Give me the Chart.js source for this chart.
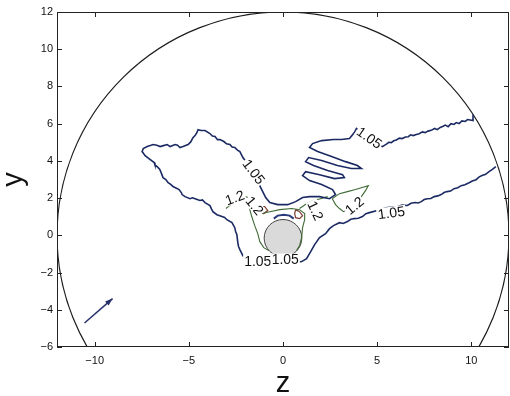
<!DOCTYPE html>
<html lang="en">
<head>
  <meta charset="UTF-8">
  <title>Contour map around a cylinder</title>
  <script src="https://cdn.jsdelivr.net/npm/chart.js"></script>
  <style>
    html, body { margin: 0; padding: 0; background: #fff; }
    #wrap { width: 510px; height: 396px; }
  </style>
</head>
<body>
  <div id="wrap"><canvas id="chart"></canvas></div>

  <script>
    // axis ticks
    const zTicks = [-10, -5, 0, 5, 10];
    const yTicks = [-6, -4, -2, 0, 2, 4, 6, 8, 10, 12];

    // geometry (data units)
    const domainRadius = 12;
    const cylinderCentre = [0, -0.15];
    const cylinderRadius = 1.0;

    // 1.05 contour, [z, y]
    const contour105 = [
      [10.09,6.49],[10.09,6.17],[9.80,6.22],[9.67,6.12],[9.50,6.15],[9.35,6.01],[9.20,6.06],[9.08,5.96],
      [8.92,6.00],[8.77,5.84],[8.62,5.92],[8.50,5.86],[8.35,5.80],[8.19,5.68],[8.05,5.74],[7.87,5.64],
      [7.70,5.60],[7.55,5.52],[7.40,5.56],[7.23,5.46],[7.08,5.42],[6.92,5.36],[6.78,5.40],[6.65,5.30],
      [6.50,5.28],[6.33,5.20],[6.18,5.22],[6.02,5.12],[5.88,5.08],[5.75,4.98],[5.62,5.00],[5.49,4.90],
      [5.28,4.77],[4.90,4.98],[4.59,5.20],[4.22,5.47],[3.90,5.74],[3.79,5.52],[3.53,5.20],
      [3.11,5.15],[2.68,5.15],[2.05,5.09],[1.57,4.93],[1.41,4.72],[1.84,4.50],[2.58,4.23],[3.32,3.96],
      [3.95,3.75],[4.16,3.59],[3.63,3.59],[2.89,3.75],[2.05,4.02],[1.36,4.18],[1.20,3.96],[1.62,3.75],
      [2.37,3.48],[3.16,3.26],[3.26,3.10],[2.74,3.05],[1.94,3.26],[1.20,3.42],[1.04,3.21],[1.41,2.94],
      [2.05,2.73],[2.63,2.46],[2.79,2.19],[2.47,1.97],[1.94,2.08],[1.41,2.08],[1.04,2.03],[0.67,1.81],
      [0.25,1.65],[-0.28,1.65],[-0.70,1.76],[-0.92,2.03],[-1.13,2.46],[-1.34,2.89],[-1.55,3.26],[-1.76,3.69],
      [-2.13,4.18],[-2.29,4.50],[-2.42,4.58],[-2.56,4.72],[-2.70,4.74],[-2.82,4.88],[-3.00,4.92],[-3.14,5.04],
      [-3.35,5.15],[-3.48,5.14],[-3.61,5.31],[-3.75,5.34],[-3.88,5.47],[-4.14,5.63],[-4.35,5.63],[-4.51,5.68],
      [-4.58,5.50],[-4.67,5.36],[-4.78,5.25],[-4.90,5.02],[-5.04,4.88],[-5.31,4.77],[-5.47,4.72],
      [-5.60,4.84],[-5.73,4.88],[-5.99,4.77],[-6.15,4.88],[-6.35,4.82],[-6.52,4.77],[-6.70,4.84],[-6.89,4.88],
      [-7.21,4.77],[-7.42,4.66],[-7.48,4.50],[-7.32,4.28],[-7.05,4.07],[-6.84,3.91],[-6.80,3.78],[-6.68,3.69],
      [-6.55,3.55],[-6.47,3.37],[-6.37,3.10],[-6.22,3.00],[-6.10,2.83],[-5.96,2.74],[-5.84,2.62],
      [-5.52,2.46],[-5.40,2.30],[-5.36,2.19],[-5.20,2.08],[-4.94,1.97],[-4.80,2.02],[-4.67,1.97],[-4.41,1.87],
      [-4.28,1.90],[-4.14,1.76],[-3.88,1.60],[-3.80,1.42],[-3.72,1.27],[-3.51,1.11],[-3.24,1.01],[-3.10,0.96],
      [-2.98,0.84],[-2.71,0.68],[-2.56,0.41],[-2.52,0.22],[-2.45,0.04],[-2.40,-0.39],[-2.36,-0.60],
      [-2.29,-0.77],[-2.13,-1.09],[-1.87,-1.31],[-1.44,-1.41],[-0.97,-1.47],[-0.44,-1.47],[0.09,-1.47],[0.62,-1.47],
      [0.99,-1.41],[1.25,-1.25],[1.47,-0.88],[1.68,-0.50],[1.94,-0.12],[2.26,0.09],[2.47,0.36],[2.68,0.52],
      [3.00,0.68],[3.20,0.64],[3.42,0.74],[3.60,0.86],[3.79,0.90],[4.00,0.92],[4.22,1.01],[4.40,1.16],
      [4.59,1.22],[5.01,1.33],[5.54,1.49],[6.07,1.54],[6.32,1.62],[6.60,1.60],[6.80,1.72],[7.02,1.76],
      [7.18,1.74],[7.34,1.81],[7.50,1.92],[7.66,1.97],[7.85,1.98],[8.03,2.08],[8.22,2.12],[8.40,2.19],
      [8.55,2.30],[8.71,2.35],[8.90,2.38],[9.08,2.51],[9.28,2.56],[9.46,2.67],[9.66,2.72],[9.88,2.83],
      [10.05,2.92],[10.25,2.99],[10.42,3.14],[10.57,3.21],[10.76,3.28],[10.94,3.42],[11.12,3.54],[11.30,3.69]
    ];

    // 1.2 contours
    const contour12a = [
      [-3.03,1.44],[-2.77,1.65],[-2.45,1.92],[-2.13,2.13],[-1.87,2.03],[-1.71,1.70],[-1.76,1.38],
      [-1.66,1.01],[-1.50,0.52],[-1.34,0.09],[-1.23,-0.34],[-1.02,-0.66],[-0.76,-0.82]
    ];
    const contour12b = [
      [-1.13,1.17],[-0.70,1.27],[-0.17,1.38],[0.46,1.44],[0.88,1.38],[1.15,1.17],[1.15,0.84],
      [1.04,0.41],[0.99,-0.12],[0.88,-0.55],[0.72,-0.82]
    ];
    const contour12c = [[0.88,1.44],[1.25,1.70],[1.62,1.87],[1.99,1.97],[2.37,2.08]];
    const contour12d = [
      [2.62,1.97],[3.00,2.24],[3.42,2.35],[3.85,2.46],[4.16,2.56],[4.53,2.67],[4.38,2.40],[4.16,2.08],
      [3.90,1.76],[3.53,1.44],[3.21,1.27],[3.00,1.44],[2.79,1.65],[2.62,1.97]
    ];

    // small closed contours next to the cylinder
    const innerLoopLeft = [[-1.29,1.54],[-0.97,1.54],[-0.81,1.33],[-1.02,1.17],[-1.29,1.22],[-1.34,1.38],[-1.29,1.54]];
    const innerLoopRight = [[0.67,1.38],[0.88,1.27],[1.04,1.06],[0.88,0.90],[0.67,0.95],[0.62,1.17],[0.67,1.38]];
    const capContour = [[-0.49,0.90],[-0.28,1.06],[0.04,1.11],[0.35,1.06],[0.57,0.90]];

    // inflow arrow (tail, tip)
    const arrowZ = [-10.54, -9.05];
    const arrowY = [-4.71, -3.40];

    // contour labels
    const labelText = ['1.05', '1.05', '1.05', '1.05', '1.05', '1.2', '1.2', '1.2', '1.2'];
    const labelZ = [4.59, -1.55, 5.75, -1.34, 0.12, -2.56, -1.50, 1.73, 3.79];
    const labelY = [5.25, 3.42, 1.22, -1.36, -1.30, 2.03, 1.60, 1.33, 1.60];
    const labelAngle = [35, 53, -8, 0, 0, -20, 50, 65, -40];

    const FONT = '"Liberation Sans", Arial, Helvetica, sans-serif';
    Chart.defaults.font.family = FONT;

    const pts = arr => arr.map(p => ({ x: p[0], y: p[1] }));
    const minus = v => String(v).replace('-', '\u2212');

    const line = (data, color, width) => ({
      data: pts(data), showLine: true, borderColor: color, borderWidth: width,
      pointRadius: 0, fill: false, tension: 0
    });

    const decor = {
      id: 'decor',
      beforeDatasetsDraw(chart) {
        const { ctx, chartArea: a, scales: { x, y } } = chart;
        ctx.save();
        ctx.beginPath();
        ctx.rect(a.left, a.top, a.right - a.left, a.bottom - a.top);
        ctx.clip();
        const cx = x.getPixelForValue(0), cy = y.getPixelForValue(0);
        ctx.beginPath();
        ctx.ellipse(cx, cy, x.getPixelForValue(domainRadius) - cx, cy - y.getPixelForValue(domainRadius), 0, 0, 2 * Math.PI);
        ctx.strokeStyle = '#1c1c1c';
        ctx.lineWidth = 1.2;
        ctx.stroke();
        const px = x.getPixelForValue(cylinderCentre[0]), py = y.getPixelForValue(cylinderCentre[1]);
        ctx.beginPath();
        ctx.ellipse(px, py,
          x.getPixelForValue(cylinderCentre[0] + cylinderRadius) - px,
          py - y.getPixelForValue(cylinderCentre[1] + cylinderRadius), 0, 0, 2 * Math.PI);
        ctx.fillStyle = '#dadada';
        ctx.fill();
        ctx.strokeStyle = '#444';
        ctx.lineWidth = 1;
        ctx.stroke();
        ctx.restore();
      },
      afterDatasetsDraw(chart) {
        const { ctx, scales: { x, y } } = chart;
        // arrow head
        const sx = x.getPixelForValue(arrowZ[0]), sy = y.getPixelForValue(arrowY[0]);
        const tx = x.getPixelForValue(arrowZ[1]), ty = y.getPixelForValue(arrowY[1]);
        const ang = Math.atan2(ty - sy, tx - sx);
        ctx.save();
        ctx.fillStyle = '#26306a';
        ctx.beginPath();
        ctx.moveTo(tx, ty);
        ctx.lineTo(tx - 8 * Math.cos(ang - 0.35), ty - 8 * Math.sin(ang - 0.35));
        ctx.lineTo(tx - 8 * Math.cos(ang + 0.35), ty - 8 * Math.sin(ang + 0.35));
        ctx.closePath();
        ctx.fill();
        // inline contour labels
        ctx.font = '14px ' + FONT;
        ctx.textAlign = 'center';
        ctx.textBaseline = 'middle';
        labelText.forEach((t, i) => {
          ctx.save();
          ctx.translate(x.getPixelForValue(labelZ[i]), y.getPixelForValue(labelY[i]));
          ctx.rotate(labelAngle[i] * Math.PI / 180);
          const w = ctx.measureText(t).width;
          ctx.fillStyle = '#fff';
          ctx.fillRect(-w / 2 - 1, -6, w + 2, 12);
          ctx.fillStyle = '#111';
          ctx.fillText(t, 0, 1);
          ctx.restore();
        });
        ctx.restore();
      },
      afterDraw(chart) {
        const { ctx, chartArea: a, scales: { x, y } } = chart;
        ctx.save();
        ctx.strokeStyle = '#222';
        ctx.lineWidth = 1;
        ctx.strokeRect(a.left + 0.5, a.top + 0.5, a.right - a.left - 1, a.bottom - a.top - 1);
        ctx.beginPath();
        zTicks.forEach(v => {
          const p = Math.round(x.getPixelForValue(v)) + 0.5;
          ctx.moveTo(p, a.bottom); ctx.lineTo(p, a.bottom - 5);
          ctx.moveTo(p, a.top); ctx.lineTo(p, a.top + 5);
        });
        yTicks.forEach(v => {
          const p = Math.round(y.getPixelForValue(v)) + 0.5;
          ctx.moveTo(a.left, p); ctx.lineTo(a.left + 5, p);
          ctx.moveTo(a.right, p); ctx.lineTo(a.right - 5, p);
        });
        ctx.stroke();
        // axis titles
        ctx.fillStyle = '#111';
        ctx.font = '29px ' + FONT;
        ctx.textAlign = 'center';
        ctx.textBaseline = 'alphabetic';
        ctx.fillText('z', (a.left + a.right) / 2, 392);
        ctx.translate(18, (a.top + a.bottom) / 2);
        ctx.rotate(-Math.PI / 2);
        ctx.fillText('y', 0, 0.155 * 29);
        ctx.restore();
      }
    };

    new Chart(document.getElementById('chart'), {
      type: 'scatter',
      data: {
        datasets: [
          line(contour105, '#1b2a63', 1.6),
          line(contour12a, '#3f6b35', 1.1),
          line(contour12b, '#3f6b35', 1.1),
          line(contour12c, '#3f6b35', 1.1),
          line(contour12d, '#3f6b35', 1.1),
          line(innerLoopLeft, '#7a3b2e', 1.2),
          line(innerLoopRight, '#7a3b2e', 1.2),
          line(capContour, '#2a3a7a', 2),
          {
            data: arrowZ.map((z, i) => ({ x: z, y: arrowY[i] })),
            showLine: true, borderColor: '#26306a', borderWidth: 1.5, pointRadius: 0
          }
        ]
      },
      options: {
        responsive: true,
        maintainAspectRatio: false,
        animation: false,
        layout: { padding: { top: 12, right: 1, bottom: 0, left: 0 } },
        plugins: { legend: { display: false }, tooltip: { enabled: false } },
        scales: {
          x: {
            type: 'linear', min: -12, max: 12,
            afterBuildTicks: s => { s.ticks = zTicks.map(v => ({ value: v })); },
            afterFit: s => { s.height = 49; },
            grid: { display: false, drawTicks: false },
            border: { display: false },
            ticks: { color: '#111', font: { size: 11 }, padding: 7, maxRotation: 0, callback: minus }
          },
          y: {
            type: 'linear', min: -6, max: 12,
            afterBuildTicks: s => { s.ticks = yTicks.map(v => ({ value: v })); },
            afterFit: s => { s.width = 57; },
            grid: { display: false, drawTicks: false },
            border: { display: false },
            ticks: { color: '#111', font: { size: 11 }, padding: 4, callback: minus }
          }
        }
      },
      plugins: [decor]
    });
  </script>
</body>
</html>
